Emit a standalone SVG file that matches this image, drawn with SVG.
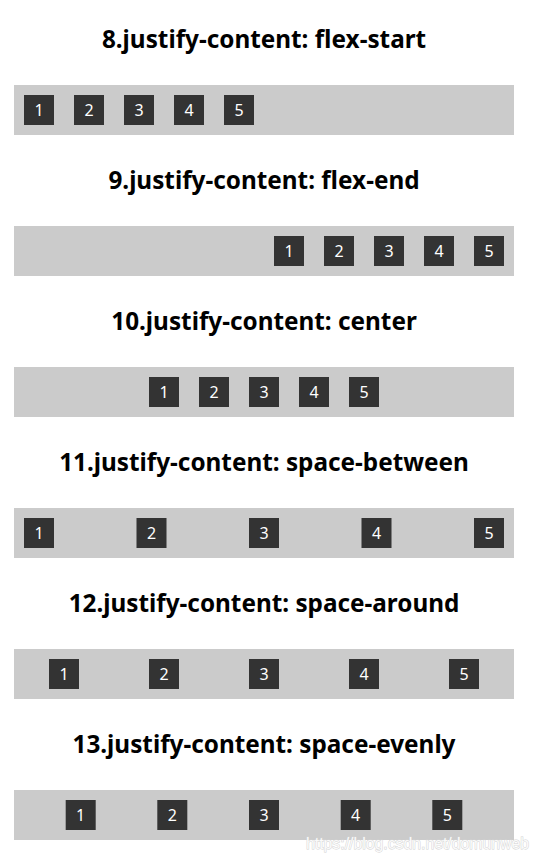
<svg xmlns="http://www.w3.org/2000/svg" width="539" height="861" viewBox="0 0 539 861">
<style>
.title{font-family:"Noto Sans","Open Sans","DejaVu Sans",sans-serif;font-weight:bold;font-size:24.3px;fill:#000;text-anchor:middle}
.bar{fill:#cbcbcb}
.box{fill:#333333}
.num{font-family:"Noto Sans","Open Sans","DejaVu Sans",sans-serif;font-size:16px;fill:#fff;text-anchor:middle}
.wm{font-family:"Liberation Sans",Arial,sans-serif;font-size:16px;fill:#fafafa;stroke:#d2d2d2;stroke-width:0.9;paint-order:stroke}
</style>
<defs>
<g id="b1"><rect class="box" x="0" y="0" width="30" height="30"/><text class="num" x="15" y="21">1</text></g>
<g id="b2"><rect class="box" x="0" y="0" width="30" height="30"/><text class="num" x="15" y="21">2</text></g>
<g id="b3"><rect class="box" x="0" y="0" width="30" height="30"/><text class="num" x="15" y="21">3</text></g>
<g id="b4"><rect class="box" x="0" y="0" width="30" height="30"/><text class="num" x="15" y="21">4</text></g>
<g id="b5"><rect class="box" x="0" y="0" width="30" height="30"/><text class="num" x="15" y="21">5</text></g>
</defs>
<rect width="539" height="861" fill="#fff"/>

<g id="row-flex-start">
<text class="title" x="264" y="48">8.justify-content: flex-start</text>
<rect class="bar" x="14" y="85" width="500" height="50"/>
<use href="#b1" x="24" y="95"/><use href="#b2" x="74" y="95"/><use href="#b3" x="124" y="95"/><use href="#b4" x="174" y="95"/><use href="#b5" x="224" y="95"/>
</g>

<g id="row-flex-end">
<text class="title" x="264" y="189">9.justify-content: flex-end</text>
<rect class="bar" x="14" y="226" width="500" height="50"/>
<use href="#b1" x="274" y="236"/><use href="#b2" x="324" y="236"/><use href="#b3" x="374" y="236"/><use href="#b4" x="424" y="236"/><use href="#b5" x="474" y="236"/>
</g>

<g id="row-center">
<text class="title" x="264" y="330">10.justify-content: center</text>
<rect class="bar" x="14" y="367" width="500" height="50"/>
<use href="#b1" x="149" y="377"/><use href="#b2" x="199" y="377"/><use href="#b3" x="249" y="377"/><use href="#b4" x="299" y="377"/><use href="#b5" x="349" y="377"/>
</g>

<g id="row-space-between">
<text class="title" x="264" y="471">11.justify-content: space-between</text>
<rect class="bar" x="14" y="508" width="500" height="50"/>
<use href="#b1" x="24" y="518"/><use href="#b2" x="136.5" y="518"/><use href="#b3" x="249" y="518"/><use href="#b4" x="361.5" y="518"/><use href="#b5" x="474" y="518"/>
</g>

<g id="row-space-around">
<text class="title" x="264" y="612">12.justify-content: space-around</text>
<rect class="bar" x="14" y="649" width="500" height="50"/>
<use href="#b1" x="49" y="659"/><use href="#b2" x="149" y="659"/><use href="#b3" x="249" y="659"/><use href="#b4" x="349" y="659"/><use href="#b5" x="449" y="659"/>
</g>

<g id="row-space-evenly">
<text class="title" x="264" y="753">13.justify-content: space-evenly</text>
<rect class="bar" x="14" y="790" width="500" height="50"/>
<use href="#b1" x="65.7" y="800"/><use href="#b2" x="157.3" y="800"/><use href="#b3" x="249" y="800"/><use href="#b4" x="340.7" y="800"/><use href="#b5" x="432.3" y="800"/>
</g>

<text class="wm" x="306" y="849" textLength="223" lengthAdjust="spacingAndGlyphs">https://blog.csdn.net/domunweb</text>
</svg>
